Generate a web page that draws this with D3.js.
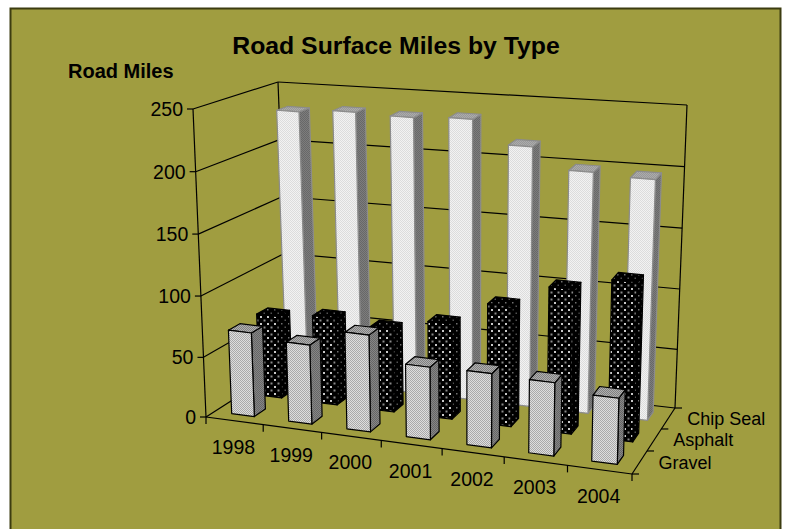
<!DOCTYPE html>
<html>
<head>
<meta charset="utf-8">
<script src="https://cdn.jsdelivr.net/npm/d3@7/dist/d3.min.js"></script>
<style>
  html, body { margin: 0; padding: 0; background: #fff; }
  svg { display: block; font-family: "Liberation Sans", Arial, sans-serif; }
</style>
</head>
<body>
<div id="chart"></div>
<script>
var years = ["1998", "1999", "2000", "2001", "2002", "2003", "2004"];
var surfaces = ["Gravel", "Asphalt", "Chip Seal"];
var gravel = [70, 66, 80, 60, 61, 60, 54];
var asphalt = [70, 74, 70, 80, 100, 119, 130];
var chipSeal = [232, 235, 234, 236, 217, 200, 198];
var valueTicks = [0, 50, 100, 150, 200, 250];

var width = 785, height = 529;

var svg = d3.select("#chart").append("svg")
    .attr("width", width)
    .attr("height", height);

var defs = svg.append("defs");

function addPattern(id, size, bg, dots) {
  var p = defs.append("pattern")
      .attr("id", id)
      .attr("patternUnits", "userSpaceOnUse")
      .attr("width", size)
      .attr("height", size);
  p.append("rect").attr("width", size).attr("height", size).attr("fill", bg);
  dots.forEach(function (d) {
    p.append("rect")
        .attr("x", d[0]).attr("y", d[1])
        .attr("width", d[2]).attr("height", d[2])
        .attr("fill", d[3]);
  });
}
// checker fills, and the dotted black one
var check = function (c) { return [[0, 0, 1, c], [1, 1, 1, c]]; };
addPattern("chipFront", 2, "#f2f2f2", check("#dcdcdc"));
addPattern("chipSide", 2, "#7d7d7d", check("#686868"));
addPattern("chipTop", 2, "#acacac", check("#989898"));
addPattern("gravelFront", 2, "#dedede", check("#aaaaaa"));
addPattern("gravelSide", 2, "#868686", check("#666"));
addPattern("gravelTop", 2, "#b0b0b0", check("#808080"));
addPattern("dotFront", 7, "#000", [[1, 1, 2, "#c8c8c8"], [4.5, 4.5, 2, "#8a8a8a"]]);
addPattern("dotSide", 7, "#000", [[1, 1, 1.5, "#707070"], [4.5, 4.5, 1.5, "#505050"]]);
addPattern("dotTop", 7, "#000", [[1, 1, 1.5, "#707070"], [4.5, 4.5, 1.5, "#505050"]]);

svg.append("rect")
    .attr("x", 10.5).attr("y", 8.5)
    .attr("width", 770).attr("height", 560)
    .attr("fill", "#a09d40")
    .attr("stroke", "#3c3c10")
    .attr("stroke-width", 2);

// unit box corners: [front-left, front-right, back-right, back-left]
var floorQuad = [[206, 417], [632, 474], [675, 408], [289, 364]];
var topQuad = [[193, 109], [640, 156], [687, 105], [278, 82]];

var uScale = d3.scaleBand().domain(years).range([0, 1]).paddingInner(0.6).paddingOuter(0.3);
var vScale = d3.scaleBand().domain(surfaces).range([0, 1]).paddingInner(0.6).paddingOuter(0.3);
var wScale = d3.scalePow().exponent(1.02).domain([0, 250]).range([0, 1]);

// mild foreshortening along the floor
function warp(t, a) { return t + a * t * (t - 1); }

function mix(a, b, t) { return [a[0] + (b[0] - a[0]) * t, a[1] + (b[1] - a[1]) * t]; }

// u along years, v into the page, val in road miles
function project(u, v, val) {
  var w = wScale(val), uu = warp(u, 0.07), vv = warp(v, -0.07);
  var q = floorQuad.map(function (p, i) { return mix(p, topQuad[i], w); });
  return mix(mix(q[0], q[1], uu), mix(q[3], q[2], uu), vv);
}

var lineGen = d3.line();
var axes = svg.append("g")
    .attr("fill", "none")
    .attr("stroke", "#000")
    .attr("stroke-width", 1.2);

function seg(a, b) {
  axes.append("path").attr("d", lineGen([a, b]));
}

// walls
valueTicks.forEach(function (t) {
  seg(project(0, 0, t), project(0, 1, t));
  seg(project(0, 1, t), project(1, 1, t));
});
seg(project(0, 0, 0), project(0, 0, 250));
seg(project(0, 1, 0), project(0, 1, 250));
seg(project(1, 1, 0), project(1, 1, 250));
seg(project(0, 0, 0), project(1, 0, 0));
seg(project(1, 0, 0), project(1, 1, 0));

// value ticks
valueTicks.forEach(function (t) {
  var p = project(0, 0, t);
  seg(p, [p[0] - 6, p[1]]);
  svg.append("text")
      .attr("x", p[0] - 10)
      .attr("y", p[1])
      .attr("dy", "0.36em")
      .attr("text-anchor", "end")
      .attr("font-size", 19.5)
      .text(t);
});

// year ticks
d3.range(years.length + 1).forEach(function (i) {
  var p = project(i / years.length, 0, 0);
  seg(p, [p[0], p[1] + 7]);
});
years.forEach(function (y) {
  var p = project(uScale(y) + uScale.bandwidth() / 2, 0, 0);
  svg.append("text")
      .attr("x", p[0] - 1)
      .attr("y", p[1] + 26)
      .attr("dy", "0.36em")
      .attr("text-anchor", "middle")
      .attr("font-size", 19.5)
      .text(y);
});

// depth ticks
d3.range(surfaces.length + 1).forEach(function (i) {
  var p = project(1, i / surfaces.length, 0);
  seg(p, [p[0] + 7, p[1]]);
});
surfaces.forEach(function (s) {
  var p = project(1, vScale(s) + vScale.bandwidth() / 2, 0);
  svg.append("text")
      .attr("x", p[0] + 19)
      .attr("y", p[1])
      .attr("dy", "0.36em")
      .attr("font-size", 18)
      .text(s);
});

// bars, back row first
var rows = [
  {surface: "Chip Seal", values: chipSeal, front: "chipFront", side: "chipSide", top: "chipTop", stroke: "#8c8c8c"},
  {surface: "Asphalt", values: asphalt, front: "dotFront", side: "dotSide", top: "dotTop", stroke: "#000"},
  {surface: "Gravel", values: gravel, front: "gravelFront", side: "gravelSide", top: "gravelTop", stroke: "#000"}
];

rows.forEach(function (row) {
  var v0 = vScale(row.surface), v1 = v0 + vScale.bandwidth();
  var g = svg.append("g")
      .attr("stroke", row.stroke)
      .attr("stroke-width", 1.2)
      .attr("stroke-linejoin", "round");
  var bars = g.selectAll("g").data(row.values).enter().append("g");
  function face(fill, fn) {
    bars.append("path")
        .attr("fill", "url(#" + fill + ")")
        .attr("d", function (d, i) { return lineGen(fn(d, uScale(years[i]), uScale(years[i]) + uScale.bandwidth())) + "Z"; });
  }
  face(row.side, function (d, u0, u1) {
    return [project(u1, v0, 0), project(u1, v1, 0), project(u1, v1, d), project(u1, v0, d)];
  });
  face(row.top, function (d, u0, u1) {
    return [project(u0, v0, d), project(u1, v0, d), project(u1, v1, d), project(u0, v1, d)];
  });
  face(row.front, function (d, u0, u1) {
    return [project(u0, v0, 0), project(u1, v0, 0), project(u1, v0, d), project(u0, v0, d)];
  });
});

svg.append("text")
    .attr("x", 396)
    .attr("y", 54)
    .attr("text-anchor", "middle")
    .attr("font-size", 24.8)
    .attr("font-weight", "bold")
    .text("Road Surface Miles by Type");

svg.append("text")
    .attr("x", 68)
    .attr("y", 78)
    .attr("font-size", 20)
    .attr("font-weight", "bold")
    .text("Road Miles");
</script>
</body>
</html>
